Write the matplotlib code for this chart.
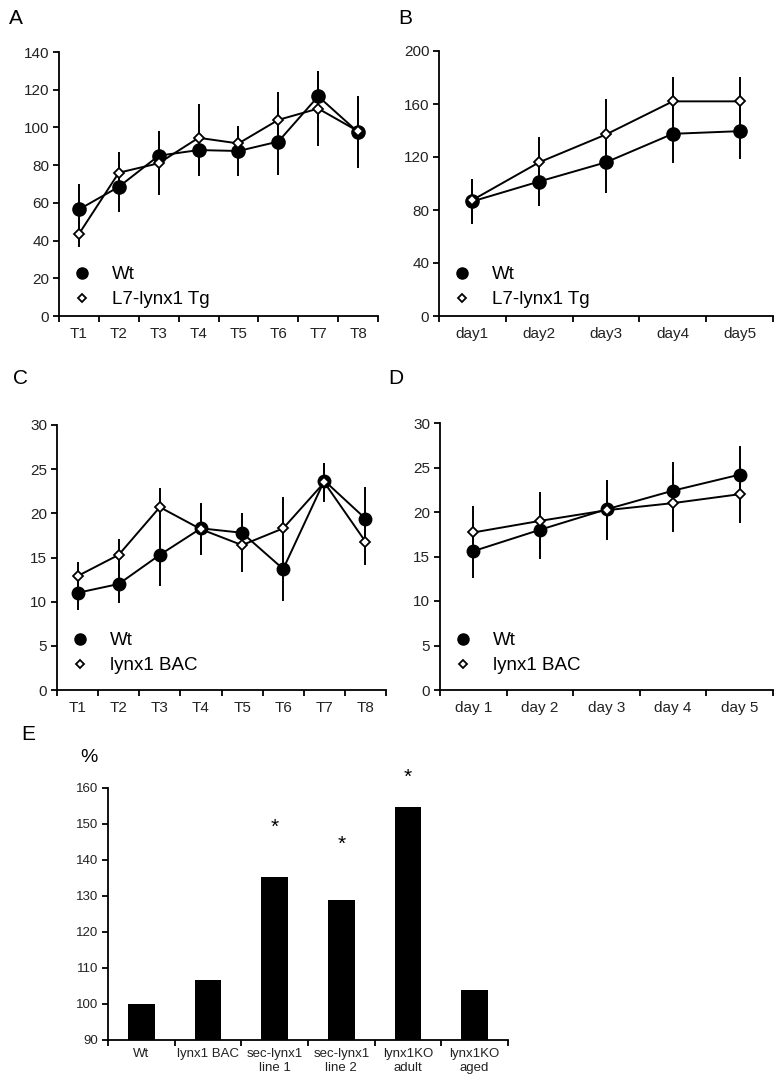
import numpy as np
import matplotlib
matplotlib.use("Agg")
import matplotlib.pyplot as plt
from matplotlib.lines import Line2D

plt.rcParams["font.family"] = ["Liberation Sans", "DejaVu Sans"]

# ---------------------------------------
# DATA
# ---------------------------------------
trial_labels = ["T1", "T2", "T3", "T4", "T5", "T6", "T7", "T8"]
day_labels_b = ["day1", "day2", "day3", "day4", "day5"]
day_labels_d = ["day 1", "day 2", "day 3", "day 4", "day 5"]

# Panel A
a_wt = [56.5, 68.5, 85, 88, 87.5, 92.5, 116.5, 97.5]
a_wt_err = [13.5, 13.5, 13, 14, 13, 17.5, 13.5, 19]
a_tg = [43.5, 76, 81, 94.5, 91.5, 104, 110, 98]
a_tg_err = [7, 11, 17, 18, 9, 15, 20, 18]

# Panel B
b_wt = [86.5, 101.5, 116, 137.5, 139.5]
b_wt_err = [17, 18.5, 23.5, 22, 21]
b_tg = [87.5, 116, 137, 162, 162]
b_tg_err = [16, 19, 26.5, 18.5, 18.5]

# Panel C
c_wt = [11.0, 12.0, 15.3, 18.3, 17.8, 13.7, 23.7, 19.4]
c_wt_err = [1.9, 2.1, 3.5, 2.9, 2.2, 3.6, 2.0, 3.6]
c_bac = [12.9, 15.3, 20.7, 18.2, 16.4, 18.3, 23.5, 16.8]
c_bac_err = [1.6, 1.8, 2.2, 2.9, 3.0, 3.6, 2.2, 2.6]

# Panel D
d_wt = [15.6, 18.0, 20.3, 22.4, 24.2]
d_wt_err = [3.0, 3.3, 3.3, 3.2, 3.2]
d_bac = [17.7, 19.0, 20.2, 21.0, 22.0]
d_bac_err = [3.0, 3.3, 3.3, 3.2, 3.2]

# Panel E
e_labels = ["Wt", "lynx1 BAC", "sec-lynx1\nline 1", "sec-lynx1\nline 2",
            "lynx1KO\nadult", "lynx1KO\naged"]
e_values = [100, 106.7, 135.4, 128.9, 154.7, 104]
e_star_y = [None, None, 149, 144.3, 163, None]

W, H = 783, 1081
fig = plt.figure(figsize=(W / 100, H / 100), dpi=100)


def box(left, top, right, bottom):
    return [left / W, 1 - bottom / H, (right - left) / W, (bottom - top) / H]


def style_axes(ax, labels, ymax, ystep, tick_fs=11, xpad=8):
    n = len(labels)
    for s in ["top", "right"]:
        ax.spines[s].set_visible(False)
    for s in ["left", "bottom"]:
        ax.spines[s].set_linewidth(1.3)
    ax.set_xlim(0, n)
    ax.set_ylim(0, ymax)
    ax.set_yticks(np.arange(0, ymax + 0.1, ystep))
    ax.set_xticks(np.arange(n + 1))
    ax.set_xticklabels([])
    ax.set_xticks(np.arange(n) + 0.5, minor=True)
    ax.set_xticklabels(labels, minor=True)
    ax.tick_params(axis="x", which="minor", length=0, pad=xpad,
                   labelsize=tick_fs, labelcolor="#222222")
    ax.tick_params(axis="x", which="major", direction="out", length=4, width=1.3)
    ax.tick_params(axis="y", direction="out", length=4, width=1.3, pad=3,
                   labelsize=tick_fs, labelcolor="#222222")


def line_panel(ax, wt, wt_err, tg, tg_err, labels, ymax, ystep, tg_name,
               circ_ms, dia_ms, leg_y):
    x = np.arange(len(wt)) + 0.5
    ax.errorbar(x, wt, yerr=wt_err, fmt="none", ecolor="black", elinewidth=1.4,
                capsize=0, zorder=1)
    ax.errorbar(x, tg, yerr=tg_err, fmt="none", ecolor="black", elinewidth=1.4,
                capsize=0, zorder=1)
    ax.plot(x, wt, color="black", lw=1.4, marker="o", ms=circ_ms,
            mfc="black", mec="black", zorder=3)
    ax.plot(x, tg, color="black", lw=1.4, marker="D", ms=dia_ms,
            mfc="white", mec="black", mew=1.3, zorder=4)
    style_axes(ax, labels, ymax, ystep)
    handles = [
        Line2D([], [], ls="none", marker="o", ms=8, mfc="black", mec="black"),
        Line2D([], [], ls="none", marker="D", ms=4.5, mfc="white", mec="black",
               mew=1.3),
    ]
    ax.legend(handles, ["Wt", tg_name], loc="lower left",
              bbox_to_anchor=(0.0, leg_y), frameon=False, fontsize=13.5,
              handlelength=1.0, handletextpad=1.1, labelspacing=0.42,
              borderpad=0.2)


# Panel A
ax_a = fig.add_axes(box(59, 52, 378, 316))
line_panel(ax_a, a_wt, a_wt_err, a_tg, a_tg_err, trial_labels, 140, 20,
           "L7-lynx1 Tg", 9.5, 5.3, -0.02)

# Panel B
ax_b = fig.add_axes(box(439, 51, 773, 316))
line_panel(ax_b, b_wt, b_wt_err, b_tg, b_tg_err, day_labels_b, 200, 40,
           "L7-lynx1 Tg", 9.5, 5.3, -0.02)

# Panel C
ax_c = fig.add_axes(box(57, 425, 386, 690))
line_panel(ax_c, c_wt, c_wt_err, c_bac, c_bac_err, trial_labels, 30, 5,
           "lynx1 BAC", 9, 5, 0.01)

# Panel D
ax_d = fig.add_axes(box(440, 423, 773, 690))
line_panel(ax_d, d_wt, d_wt_err, d_bac, d_bac_err, day_labels_d, 30, 5,
           "lynx1 BAC", 9, 5, 0.01)

# Panel E
ax_e = fig.add_axes(box(108, 788, 508, 1040))
xe = np.arange(len(e_values)) + 0.5
ax_e.bar(xe, np.array(e_values) - 90, bottom=90, width=0.4, color="black")
style_axes(ax_e, e_labels, 160, 10, tick_fs=9.5, xpad=6)
ax_e.set_ylim(90, 160)
ax_e.set_yticks(np.arange(90, 161, 10))
for xi, sy in zip(xe, e_star_y):
    if sy is not None:
        ax_e.text(xi, sy, "*", ha="center", va="center", fontsize=15,
                  clip_on=False)
fig.text(89 / W, 1 - 757 / H, "%", fontsize=14, ha="center", va="center")

# panel letters
for letter, px, py in [("A", 16, 19), ("B", 405, 19), ("C", 21, 379),
                       ("D", 396, 379), ("E", 28, 734)]:
    fig.text(px / W, 1 - py / H, letter, fontsize=15, ha="center",
             va="center")

fig.savefig("out.png", dpi=100)
